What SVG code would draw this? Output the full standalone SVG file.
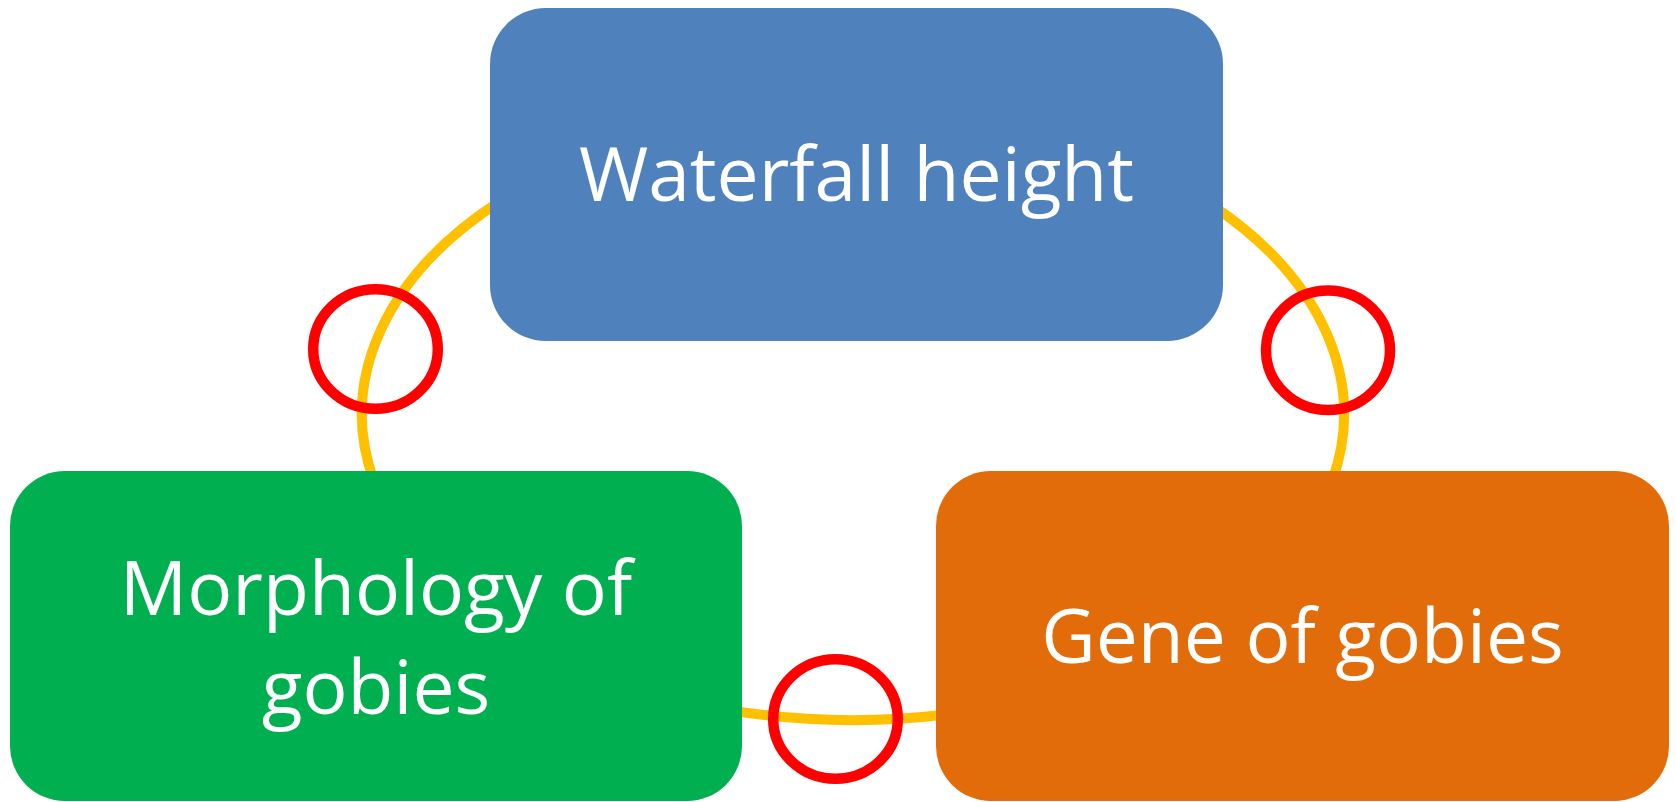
<svg xmlns="http://www.w3.org/2000/svg" width="1676" height="802" viewBox="0 0 1676 802">
  <style>
    .box-label { font-family: "Open Sans", "Liberation Sans", sans-serif; font-size: 75px; fill: #FFFFFF; text-anchor: middle; }
    .link { fill: none; stroke: #FFC000; stroke-width: 10; }
    .mark { fill: none; stroke: #FF0000; stroke-width: 10.5; }
  </style>
  <rect width="1676" height="802" fill="#FFFFFF"/>

  <!-- cycle arcs between the three boxes (one shared ellipse) -->
  <g id="connectors">
    <path class="link" d="M500,201.3 A491,306 0 0,0 373.5,480"/>
    <path class="link" d="M1213,206 A491,306 0 0,1 1332.5,480"/>
    <path class="link" d="M732,710.6 A491,306 0 0,0 946,714.5"/>
  </g>

  <g id="node-waterfall">
    <rect x="490" y="8" width="733" height="333" rx="56" ry="56" fill="#4F81BD"/>
    <text class="box-label" x="856.5" y="201">Waterfall height</text>
  </g>

  <g id="node-morphology">
    <rect x="10" y="471" width="732" height="330" rx="55" ry="55" fill="#00B050"/>
    <text class="box-label" x="376" y="614.6">Morphology of</text>
    <text class="box-label" x="376" y="714">gobies</text>
  </g>

  <g id="node-gene">
    <rect x="936" y="471" width="733" height="330" rx="55" ry="55" fill="#E36C0A"/>
    <text class="box-label" x="1302.5" y="662.7">Gene of gobies</text>
  </g>

  <!-- red highlight rings over the arcs -->
  <g id="highlights">
    <ellipse class="mark" cx="375.5" cy="349" rx="62.3" ry="59.8"/>
    <ellipse class="mark" cx="1328" cy="350.3" rx="62" ry="59.8"/>
    <ellipse class="mark" cx="835.5" cy="719" rx="62.3" ry="59.8"/>
  </g>
</svg>
